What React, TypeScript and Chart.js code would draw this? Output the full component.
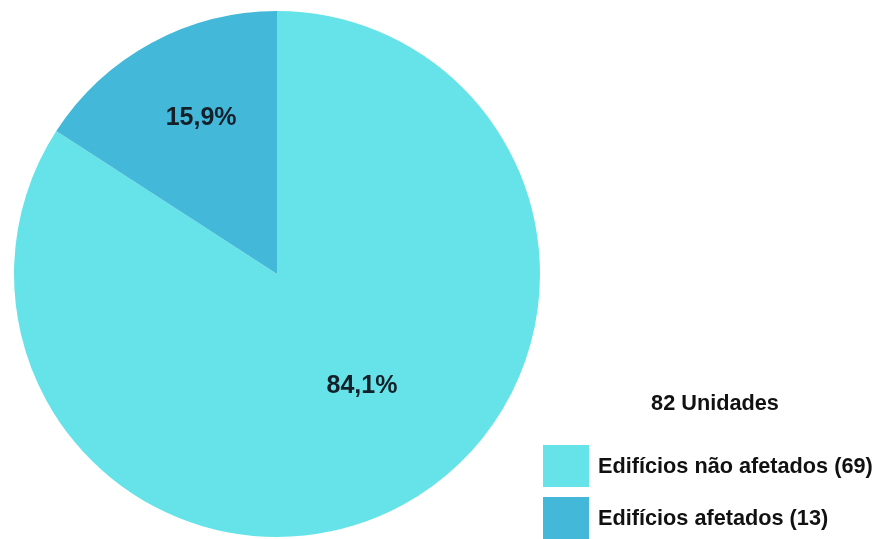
import React, { useEffect, useRef } from "react";
import { Chart, registerables } from "chart.js";

Chart.register(...registerables);

const categories = ["Edifícios não afetados", "Edifícios afetados"];
const counts = [69, 13];
const percentLabels = ["84,1%", "15,9%"];
const totalLabel = "82 Unidades";
const colors = ["#66E3E8", "#44B8D8"];

const FONT = "'Liberation Sans', Arial, sans-serif";

const labelPlugin = {
  id: "sliceLabels",
  afterDatasetsDraw(chart: any, _args: any, opts: any) {
    const ctx = chart.ctx;
    const meta = chart.getDatasetMeta(0);
    ctx.save();
    ctx.font = `bold 25px ${FONT}`;
    ctx.fillStyle = "#13202a";
    ctx.textAlign = "center";
    ctx.textBaseline = "middle";
    meta.data.forEach((arc: any, i: number) => {
      const p = arc.getProps(["x", "y", "startAngle", "endAngle", "outerRadius"], true);
      const mid = (p.startAngle + p.endAngle) / 2 + (opts.angleOffsets[i] * Math.PI) / 180;
      const r = p.outerRadius * opts.radiusFactors[i];
      ctx.fillText(percentLabels[i], p.x + Math.cos(mid) * r, p.y + Math.sin(mid) * r);
    });
    ctx.restore();
  },
};

const legendPlugin = {
  id: "customLegend",
  afterDraw(chart: any, _args: any, opts: any) {
    const ctx = chart.ctx;
    const bg = chart.data.datasets[0].backgroundColor as string[];
    ctx.save();
    ctx.fillStyle = "#111";
    ctx.font = `bold 21.7px ${FONT}`;
    ctx.textAlign = "center";
    ctx.textBaseline = "middle";
    ctx.fillText(totalLabel, opts.titleX, opts.titleY);
    ctx.textAlign = "left";
    chart.data.labels.forEach((lab: string, i: number) => {
      const y = opts.top + i * opts.rowStep;
      ctx.fillStyle = bg[i];
      ctx.fillRect(opts.left, y, opts.boxW, opts.boxH);
      ctx.fillStyle = "#111";
      ctx.fillText(`${lab} (${chart.data.datasets[0].data[i]})`, opts.textX, y + opts.boxH / 2 + 1);
    });
    ctx.restore();
  },
};

export default function App() {
  const ref = useRef<HTMLCanvasElement>(null);
  useEffect(() => {
    if (!ref.current) return;
    const chart = new Chart(ref.current, {
      type: "pie",
      data: {
        labels: categories,
        datasets: [
          {
            data: counts,
            backgroundColor: colors,
            borderWidth: 0,
          },
        ],
      },
      options: {
        responsive: false,
        animation: false,
        layout: { padding: { left: 14, top: 11, right: 340, bottom: 2 } },
        plugins: {
          legend: { display: false },
          tooltip: { enabled: false },
          sliceLabels: { radiusFactors: [0.535, 0.66], angleOffsets: [-8.6, 2.6] },
          customLegend: {
            titleX: 715,
            titleY: 404,
            left: 543,
            top: 445,
            boxW: 46,
            boxH: 42,
            rowStep: 52,
            textX: 598,
          },
        } as any,
      },
      plugins: [labelPlugin, legendPlugin],
    });
    return () => chart.destroy();
  }, []);
  return (
    <div style={{ position: "fixed", left: 0, top: 0, width: 880, height: 539, background: "#fff" }}>
      <canvas ref={ref} width={880} height={539} style={{ display: "block" }} />
    </div>
  );
}
